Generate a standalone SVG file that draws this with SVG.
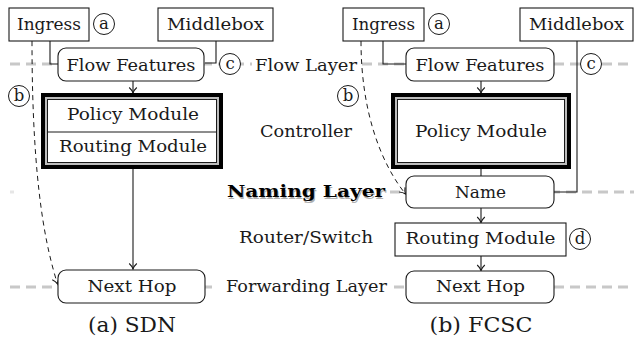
<svg xmlns="http://www.w3.org/2000/svg" width="634" height="345" viewBox="0 0 634 345">
<defs>
<style>
text{font-family:"DejaVu Serif","Liberation Serif",serif;font-size:17.5px;fill:#1a1a1a;text-anchor:middle}
.lbl{font-size:16.5px}
.box{fill:#fff;stroke:#1a1a1a;stroke-width:1.1}
.rbox{fill:#fff;stroke:#1a1a1a;stroke-width:1.1}
.layer{stroke:#c8c8c8;stroke-width:3;stroke-dasharray:10 6;fill:none}
.conn{stroke:#1a1a1a;stroke-width:1.1;fill:none}
.dash{stroke:#1a1a1a;stroke-width:1;fill:none;stroke-dasharray:5 4}
.circ{fill:#fff;stroke:#1a1a1a;stroke-width:1}
.bg{fill:#fff}
.cap{font-size:21px}
.bold{font-weight:bold;font-size:17px}
</style>
<marker id="arr" markerUnits="userSpaceOnUse" markerWidth="12" markerHeight="12" viewBox="-7 -6 8 12" refX="0" refY="0" orient="auto">
<path d="M-5.5,-3.8 C-3.5,-1.6 -1.5,-0.5 0,0 C-1.5,0.5 -3.5,1.6 -5.5,3.8" fill="none" stroke="#1a1a1a" stroke-width="1.1"/>
</marker>
</defs>

<g id="layers">
<line class="layer" x1="10" y1="64" x2="634" y2="64"/>
<line class="layer" x1="10" y1="192" x2="14" y2="192" style="stroke:#e6e6e6"/>
<line class="layer" x1="390" y1="192" x2="634" y2="192"/>
<line class="layer" x1="10" y1="287" x2="634" y2="287"/>
</g>

<g id="layer-labels">
<rect class="bg" x="252" y="54" width="107" height="22"/>
<text x="306" y="71" textLength="102" lengthAdjust="spacingAndGlyphs">Flow Layer</text>
<text x="306" y="137" textLength="92" lengthAdjust="spacingAndGlyphs">Controller</text>
<rect class="bg" x="222" y="180" width="166" height="24"/>
<text x="307" y="198.5" class="bold" textLength="158" lengthAdjust="spacingAndGlyphs" style="fill:#b0b0b0">Naming Layer</text>
<text x="306" y="197" class="bold" textLength="158" lengthAdjust="spacingAndGlyphs" style="fill:#000">Naming Layer</text>
<text x="306" y="243" textLength="134" lengthAdjust="spacingAndGlyphs">Router/Switch</text>
<rect class="bg" x="216" y="276" width="176" height="22"/>
<text x="306.5" y="292" textLength="161" lengthAdjust="spacingAndGlyphs">Forwarding Layer</text>
</g>

<g id="connectors">
<!-- SDN -->
<path class="conn" d="M50,41 V64 H58"/>
<path class="conn" d="M216,41 V63 H205"/>
<line class="conn" x1="133" y1="81" x2="133" y2="93" marker-end="url(#arr)"/>
<line class="conn" x1="133" y1="169" x2="133" y2="269" marker-end="url(#arr)"/>
<path class="dash" d="M32,41 C32,190 47,250 57.5,284" marker-end="url(#arr)"/>
<!-- FCSC -->
<path class="conn" d="M383,41 V64 H406"/>
<path class="conn" d="M577,41 V192 H554"/>
<line class="conn" x1="481" y1="81" x2="481" y2="93" marker-end="url(#arr)"/>
<line class="conn" x1="481" y1="169" x2="481" y2="176"/>
<line class="conn" x1="481" y1="208" x2="481" y2="222.5" marker-end="url(#arr)"/>
<line class="conn" x1="481" y1="256" x2="481" y2="270.5" marker-end="url(#arr)"/>
<path class="dash" d="M361,41 C361,110 380,162 405.5,194" marker-end="url(#arr)"/>
</g>

<!-- SDN nodes -->
<g id="sdn-ingress">
<rect class="box" x="9" y="8" width="80" height="33"/>
<text x="49" y="30" textLength="64" lengthAdjust="spacingAndGlyphs">Ingress</text>
</g>
<g id="sdn-a">
<circle class="circ" cx="104" cy="24" r="10.5"/>
<text class="lbl" x="104" y="28.5">a</text>
</g>
<g id="sdn-middlebox">
<rect class="box" x="158" y="8" width="115" height="33"/>
<text x="215.5" y="30" textLength="97" lengthAdjust="spacingAndGlyphs">Middlebox</text>
</g>
<g id="sdn-flow-features">
<rect class="rbox" x="58" y="48" width="146" height="33" rx="8"/>
<text x="131" y="71" textLength="129" lengthAdjust="spacingAndGlyphs">Flow Features</text>
</g>
<g id="sdn-c">
<circle class="circ" cx="230" cy="64" r="10.5"/>
<text class="lbl" x="230" y="68.5">c</text>
</g>
<g id="sdn-b">
<circle class="circ" cx="19" cy="96" r="10.5"/>
<text class="lbl" x="19" y="100.5">b</text>
</g>
<g id="sdn-controller">
<rect x="43" y="95" width="178" height="72" fill="#fff" stroke="#000" stroke-width="4"/>
<rect x="46" y="98" width="172" height="66" fill="none" stroke="#bdbdbd" stroke-width="2"/>
<rect x="47.5" y="99.5" width="169" height="63" fill="none" stroke="#1a1a1a" stroke-width="1"/>
<line x1="47.5" y1="132" x2="216.5" y2="132" stroke="#1a1a1a" stroke-width="1"/>
<text x="133" y="120" textLength="132" lengthAdjust="spacingAndGlyphs">Policy Module</text>
<text x="133" y="152" textLength="148" lengthAdjust="spacingAndGlyphs">Routing Module</text>
</g>
<g id="sdn-next-hop">
<rect class="rbox" x="58" y="270" width="147" height="33" rx="8"/>
<text x="132" y="292" textLength="89" lengthAdjust="spacingAndGlyphs">Next Hop</text>
</g>
<text class="cap" x="132" y="332" textLength="88" lengthAdjust="spacingAndGlyphs">(a) SDN</text>

<!-- FCSC nodes -->
<g id="fcsc-ingress">
<rect class="box" x="343" y="8" width="81" height="33"/>
<text x="383.5" y="30" textLength="63" lengthAdjust="spacingAndGlyphs">Ingress</text>
</g>
<g id="fcsc-a">
<circle class="circ" cx="439" cy="24" r="10.5"/>
<text class="lbl" x="439" y="28.5">a</text>
</g>
<g id="fcsc-middlebox">
<rect class="box" x="520" y="8" width="113" height="33"/>
<text x="576.5" y="30" textLength="95" lengthAdjust="spacingAndGlyphs">Middlebox</text>
</g>
<g id="fcsc-flow-features">
<rect class="rbox" x="406" y="48" width="148" height="33" rx="8"/>
<text x="480" y="71" textLength="129" lengthAdjust="spacingAndGlyphs">Flow Features</text>
</g>
<g id="fcsc-b">
<circle class="circ" cx="348" cy="96" r="10.5"/>
<text class="lbl" x="348" y="100.5">b</text>
</g>
<g id="fcsc-c">
<circle class="circ" cx="591" cy="64" r="10.5"/>
<text class="lbl" x="591" y="68.5">c</text>
</g>
<g id="fcsc-controller">
<rect x="393" y="95" width="176" height="72" fill="#fff" stroke="#000" stroke-width="4"/>
<rect x="396" y="98" width="170" height="66" fill="none" stroke="#bdbdbd" stroke-width="2"/>
<rect x="397.5" y="99.5" width="167" height="63" fill="none" stroke="#1a1a1a" stroke-width="1"/>
<text x="481" y="137" textLength="132" lengthAdjust="spacingAndGlyphs">Policy Module</text>
</g>
<g id="fcsc-name">
<rect class="rbox" x="406" y="176" width="148" height="32" rx="8"/>
<text x="480.5" y="198" textLength="51" lengthAdjust="spacingAndGlyphs">Name</text>
</g>
<g id="fcsc-routing">
<rect class="box" x="395" y="223" width="171" height="33"/>
<text x="480.5" y="244" textLength="150" lengthAdjust="spacingAndGlyphs">Routing Module</text>
</g>
<g id="fcsc-d">
<circle class="circ" cx="580" cy="239" r="10.5"/>
<text class="lbl" x="580" y="243.5">d</text>
</g>
<g id="fcsc-next-hop">
<rect class="rbox" x="406" y="271" width="148" height="32" rx="8"/>
<text x="480.5" y="292" textLength="89" lengthAdjust="spacingAndGlyphs">Next Hop</text>
</g>
<text class="cap" x="481" y="332" textLength="103" lengthAdjust="spacingAndGlyphs">(b) FCSC</text>
</svg>
